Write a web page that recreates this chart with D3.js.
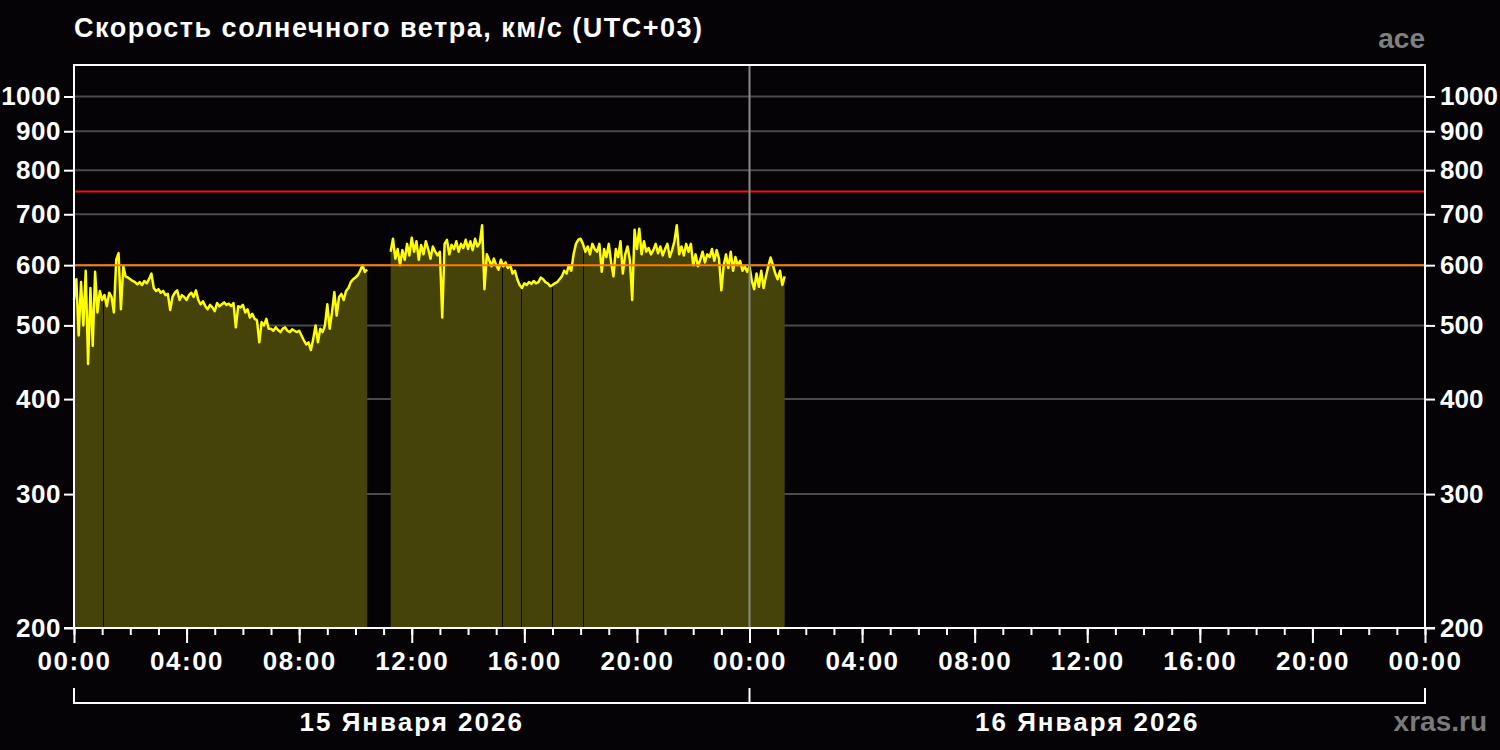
<!DOCTYPE html>
<html lang="ru">
<head>
<meta charset="UTF-8">
<title>Скорость солнечного ветра</title>
<style>
  body { margin: 0; background: #050305; }
  svg text { font-family: "Liberation Sans", Arial, sans-serif; font-weight: bold; }
</style>
</head>
<body>
<div id="chart"></div>
<script src="https://d3js.org/d3.v7.min.js"></script>
<script>
// --- data (km/s, 5-minute samples) ---
const stepMinutes = 5;

const seg1Start = "2026-01-15T00:00";
const seg1Values = [
  540, 575, 485, 570, 500, 590, 445, 560, 470, 588, 520, 555,
  540, 548, 530, 552, 545, 520, 610, 622, 525, 598, 580, 578,
  575, 572, 570, 566, 570, 565, 572, 568, 575, 585, 560, 555,
  558, 552, 555, 548, 550, 524, 545, 552, 556, 540, 548, 545,
  540, 548, 552, 545, 556, 540, 533, 538, 530, 525, 532, 528,
  522, 535, 530, 533, 536, 532, 534, 530, 535, 497, 530, 528,
  532, 520, 525, 512, 518, 510, 508, 475, 505, 500, 510, 495,
  495, 492, 497, 493, 490, 495, 497, 492, 490, 494, 492, 490,
  492, 485, 478, 472, 475, 464, 480, 500, 475, 495, 490, 500,
  533, 495, 520, 553, 515, 545, 550, 540, 555, 560, 570, 575,
  578, 582, 590, 600, 588, 592
];

const seg2Start = "2026-01-15T11:15";
const seg2Values = [
  625, 650, 612, 630, 600, 628, 610, 640, 618,
  652, 625, 645, 610, 638, 620, 645, 630, 612, 635, 625, 618,
  625, 512, 640, 648, 620, 638, 630, 645, 625, 640, 632, 648,
  630, 645, 628, 650, 635, 642, 677, 558, 620, 610, 598, 612,
  600, 592, 610, 598, 605, 595, 600, 585, 590, 575, 565, 560,
  568, 565, 570, 567, 572, 568, 570, 578, 575, 570, 568, 563,
  565, 568, 570, 575, 580, 590, 585, 600, 590, 620, 640, 648,
  650, 640, 625, 635, 620, 640, 630, 625, 640, 588, 630, 615,
  640, 605, 580, 630, 615, 645, 585, 620, 635, 610, 540, 668,
  630, 670, 620, 645, 625, 632, 620, 628, 640, 622, 635, 618,
  630, 640, 615, 628, 645, 677, 620, 635, 618, 640, 625, 640,
  600, 620, 598, 610, 625, 605, 620, 615, 630, 608, 628, 612,
  556, 600, 620, 595, 625, 590, 615, 600, 608, 590, 598, 588,
  598, 572, 558, 585, 562, 590, 560, 580, 598, 614, 600, 585,
  575, 590, 565, 580
];

// single missing samples (thin breaks in the fill)
const gapTimes = ["2026-01-15T01:02", "2026-01-15T15:12", "2026-01-15T15:53",
                  "2026-01-15T16:59", "2026-01-15T18:05"];

const yTicks = [200, 300, 400, 500, 600, 700, 800, 900, 1000];
const warnLevel = 600;
const alertLevel = 750;
const dayStarts = ["2026-01-15T00:00", "2026-01-16T00:00", "2026-01-17T00:00"];
const dayLabels = ["15 Января 2026", "16 Января 2026"];

const title = "Скорость солнечного ветра, км/с (UTC+03)";
const source = "ace";
const site = "xras.ru";

// --- setup ---
const width = 1500, height = 750;
const plotLeft = 74, plotRight = 1425, plotTop = 65, plotBottom = 628;
const parse = d3.timeParse("%Y-%m-%dT%H:%M");

function toPoints(start, values) {
  const t0 = parse(start);
  return values.map((v, i) => ({ t: d3.timeMinute.offset(t0, i * stepMinutes), v: v }));
}
const segments = [toPoints(seg1Start, seg1Values), toPoints(seg2Start, seg2Values)];

const x = d3.scaleTime()
  .domain([parse(dayStarts[0]), parse(dayStarts[2])])
  .range([plotLeft, plotRight]);
const y = d3.scaleLog()
  .domain([200, 1100])
  .range([plotBottom, plotTop]);

const svg = d3.select("#chart").append("svg")
  .attr("width", width)
  .attr("height", height)
  .style("display", "block");

svg.append("rect").attr("width", width).attr("height", height).attr("fill", "#050305");

// grid
svg.append("g").selectAll("line")
  .data(yTicks.filter(d => d > 200))
  .join("line")
  .attr("x1", plotLeft).attr("x2", plotRight)
  .attr("y1", d => y(d)).attr("y2", d => y(d))
  .attr("stroke", "#4b4b4b")
  .attr("stroke-width", 2);

// fill + line
const area = d3.area()
  .x(d => x(d.t))
  .y0(y(200))
  .y1(d => y(d.v));
const line = d3.line()
  .x(d => x(d.t))
  .y(d => y(d.v));

const defs = svg.append("defs");
const clip = defs.append("clipPath").attr("id", "fillclip");
segments.forEach(s => clip.append("path").attr("d", area(s)));

svg.append("g").selectAll("path")
  .data(segments)
  .join("path")
  .attr("d", area)
  .attr("fill", "#45420a");

// missing samples show as thin dark breaks in the fill
svg.append("g")
  .attr("clip-path", "url(#fillclip)")
  .selectAll("line")
  .data(gapTimes.map(parse))
  .join("line")
  .attr("x1", d => Math.round(x(d)) + 0.5).attr("x2", d => Math.round(x(d)) + 0.5)
  .attr("y1", plotTop).attr("y2", plotBottom)
  .attr("stroke", "#0a0806")
  .attr("stroke-width", 1);

svg.append("g").selectAll("path")
  .data(segments)
  .join("path")
  .attr("d", line)
  .attr("fill", "none")
  .attr("stroke", "#ffff00")
  .attr("stroke-width", 2.5)
  .attr("stroke-linejoin", "round");

// threshold lines
svg.append("line")
  .attr("x1", plotLeft).attr("x2", plotRight)
  .attr("y1", y(warnLevel)).attr("y2", y(warnLevel))
  .attr("stroke", "#ff8000").attr("stroke-width", 2);
svg.append("line")
  .attr("x1", plotLeft).attr("x2", plotRight)
  .attr("y1", y(alertLevel)).attr("y2", y(alertLevel))
  .attr("stroke", "#ee1111").attr("stroke-width", 2);

// midnight divider
svg.append("line")
  .attr("x1", x(parse(dayStarts[1]))).attr("x2", x(parse(dayStarts[1])))
  .attr("y1", plotTop).attr("y2", plotBottom)
  .attr("stroke", "#8a8a8a").attr("stroke-width", 2);

// frame
svg.append("path")
  .attr("d", `M${plotLeft},${plotBottom}V${plotTop}H${plotRight}V${plotBottom}`)
  .attr("fill", "none")
  .attr("stroke", "#ffffff")
  .attr("stroke-width", 2);

// axes
function styleAxis(g, size, spacing) {
  g.select(".domain").remove();
  g.selectAll(".tick line").attr("stroke", "#fff").attr("stroke-width", 2);
  g.selectAll(".tick text")
    .attr("fill", "#fff")
    .style("font-size", size + "px")
    .style("letter-spacing", spacing + "px");
}

svg.append("g")
  .attr("transform", `translate(${plotLeft},0)`)
  .call(d3.axisLeft(y).tickValues(yTicks).tickFormat(d3.format("d")).tickSize(10).tickPadding(3))
  .call(g => styleAxis(g, 26, 0.5));

svg.append("g")
  .attr("transform", `translate(${plotRight},0)`)
  .call(d3.axisRight(y).tickValues(yTicks).tickFormat(d3.format("d")).tickSize(10).tickPadding(5))
  .call(g => styleAxis(g, 26, 0));

svg.append("g")
  .attr("transform", `translate(0,${plotBottom})`)
  .call(d3.axisBottom(x).ticks(d3.timeHour.every(1)).tickFormat("").tickSize(7))
  .call(g => styleAxis(g, 26, 1));

svg.append("g")
  .attr("transform", `translate(0,${plotBottom})`)
  .call(d3.axisBottom(x).ticks(d3.timeHour.every(4)).tickFormat(d3.timeFormat("%H:%M")).tickSize(15).tickPadding(9))
  .call(g => styleAxis(g, 26, 1.5));

svg.append("line")
  .attr("x1", plotLeft - 10).attr("x2", plotRight + 10)
  .attr("y1", plotBottom).attr("y2", plotBottom)
  .attr("stroke", "#fff").attr("stroke-width", 2);

// day bracket
const dayDates = dayStarts.map(parse);
svg.append("path")
  .attr("d", `M${x(dayDates[0])},688V703H${x(dayDates[2])}V688M${x(dayDates[1])},703V688`)
  .attr("fill", "none")
  .attr("stroke", "#fff")
  .attr("stroke-width", 2);

svg.append("g").selectAll("text")
  .data(dayLabels)
  .join("text")
  .attr("x", (d, i) => (x(dayDates[i]) + x(dayDates[i + 1])) / 2)
  .attr("y", 731)
  .attr("text-anchor", "middle")
  .attr("fill", "#fff")
  .style("font-size", "26px")
  .style("letter-spacing", "2px")
  .text(d => d);

// titles
svg.append("text")
  .attr("x", plotLeft).attr("y", 37)
  .attr("fill", "#fff")
  .style("font-size", "27px")
  .style("letter-spacing", "1.5px")
  .text(title);

svg.append("text")
  .attr("x", plotRight).attr("y", 48)
  .attr("text-anchor", "end")
  .attr("fill", "#808080")
  .style("font-size", "28px")
  .text(source);

svg.append("text")
  .attr("x", 1487).attr("y", 731)
  .attr("text-anchor", "end")
  .attr("fill", "#7a7a7a")
  .style("font-size", "28px")
  .text(site);
</script>
</body>
</html>
